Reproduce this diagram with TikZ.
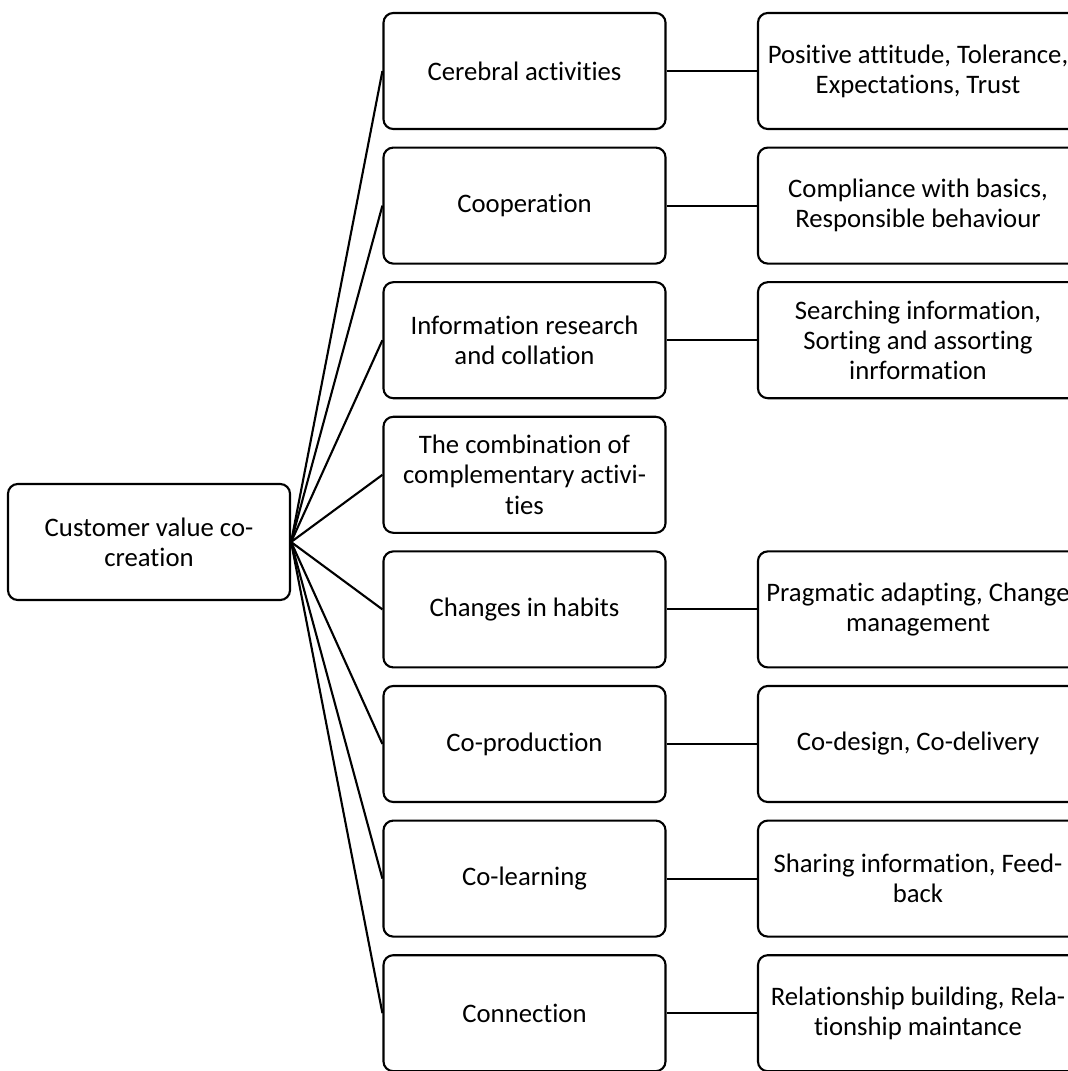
\documentclass[tikz,border=0pt]{standalone}
\usepackage{fontspec}
\setmainfont[Ligatures=NoCommon]{Carlito}
\begin{document}
\begin{tikzpicture}[x=0.025cm, y=-0.025cm,
    box/.style={draw=black, line width=1.5pt, rectangle, rounded corners=7pt, minimum width=7.05cm, minimum height=2.9cm, align=center, font=\fontsize{19}{21.5}\selectfont},
    widebox/.style={box, minimum width=8cm},
    link/.style={draw=black, line width=1.5pt}]
    \useasboundingbox (0,0) rectangle (1067,1071);
    % root
    \node [box] (cvc) at (149,542) {Customer value co-\\creation};
    % middle column
    \node [box] (cereb) at (524.5,71) {Cerebral activities};
    \node [box] (coop) at (524.5,205.6) {Cooperation};
    \node [box] (info) at (524.5,340.2) {Information research\\and collation};
    \node [box] (combo) at (524.5,474.8) {The combination of\\complementary activi-\\ties};
    \node [box] (habits) at (524.5,609.4) {Changes in habits};
    \node [box] (coprod) at (524.5,744) {Co-production};
    \node [box] (colearn) at (524.5,878.6) {Co-learning};
    \node [box] (conn) at (524.5,1013.2) {Connection};
    % right column
    \node [widebox] (attitude) at (918,71) {Positive attitude, Tolerance,\\Expectations, Trust};
    \node [widebox] (compliance) at (918,205.6) {Compliance with basics,\\Responsible behaviour};
    \node [widebox] (searching) at (918,340.2) {Searching information,\\Sorting and assorting\\inrformation};
    \node [widebox] (adapting) at (918,609.4) {Pragmatic adapting, Change\\management};
    \node [widebox] (codesign) at (918,744) {Co-design, Co-delivery};
    \node [widebox] (sharing) at (918,878.6) {Sharing information, Feed-\\back};
    \node [widebox] (relation) at (918,1013.2) {Relationship building, Rela-\\tionship maintance};
    % connectors
    \draw [link] (cvc.east) -- (cereb.west);
    \draw [link] (cvc.east) -- (coop.west);
    \draw [link] (cvc.east) -- (info.west);
    \draw [link] (cvc.east) -- (combo.west);
    \draw [link] (cvc.east) -- (habits.west);
    \draw [link] (cvc.east) -- (coprod.west);
    \draw [link] (cvc.east) -- (colearn.west);
    \draw [link] (cvc.east) -- (conn.west);
    \draw [link] (cereb.east) -- (attitude.west);
    \draw [link] (coop.east) -- (compliance.west);
    \draw [link] (info.east) -- (searching.west);
    \draw [link] (habits.east) -- (adapting.west);
    \draw [link] (coprod.east) -- (codesign.west);
    \draw [link] (colearn.east) -- (sharing.west);
    \draw [link] (conn.east) -- (relation.west);
\end{tikzpicture}
\end{document}
